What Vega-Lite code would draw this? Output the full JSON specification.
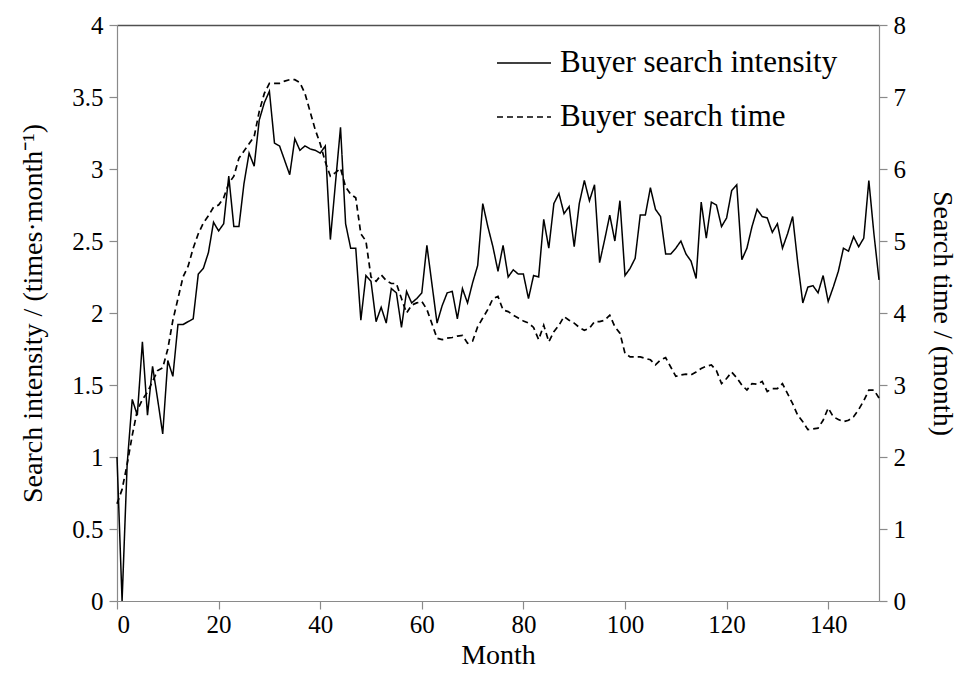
{
  "$schema": "https://vega.github.io/schema/vega-lite/v6.json",
  "width": 762,
  "height": 576,
  "autosize": {"type": "none"},
  "padding": {"left": 117, "top": 25, "right": 82, "bottom": 77},
  "background": "white",
  "config": {
    "view": {"stroke": null},
    "font": "Liberation Serif",
    "axis": {
      "grid": false,
      "domainColor": "#8a8a8a",
      "domainWidth": 1.2,
      "tickColor": "#8a8a8a",
      "tickWidth": 1.2,
      "tickSize": 8,
      "labelFont": "Liberation Serif",
      "labelFontSize": 25,
      "labelColor": "black",
      "titleFont": "Liberation Serif",
      "titleFontSize": 28,
      "titleFontWeight": "normal",
      "titleColor": "black"
    }
  },
  "data": {
    "values": [
      {"month": 0, "intensity": 1.00, "time": 1.35},
      {"month": 1, "intensity": 0.00, "time": 1.55},
      {"month": 2, "intensity": 0.95, "time": 1.9},
      {"month": 3, "intensity": 1.40, "time": 2.3},
      {"month": 4, "intensity": 1.29, "time": 2.65},
      {"month": 5, "intensity": 1.80, "time": 2.8},
      {"month": 6, "intensity": 1.29, "time": 2.9},
      {"month": 7, "intensity": 1.63, "time": 3.05},
      {"month": 8, "intensity": 1.40, "time": 3.2},
      {"month": 9, "intensity": 1.16, "time": 3.24},
      {"month": 10, "intensity": 1.67, "time": 3.5},
      {"month": 11, "intensity": 1.56, "time": 3.9},
      {"month": 12, "intensity": 1.92, "time": 4.2},
      {"month": 13, "intensity": 1.92, "time": 4.5},
      {"month": 14, "intensity": 1.94, "time": 4.65},
      {"month": 15, "intensity": 1.96, "time": 4.9},
      {"month": 16, "intensity": 2.27, "time": 5.1},
      {"month": 17, "intensity": 2.31, "time": 5.25},
      {"month": 18, "intensity": 2.42, "time": 5.35},
      {"month": 19, "intensity": 2.63, "time": 5.47},
      {"month": 20, "intensity": 2.57, "time": 5.5},
      {"month": 21, "intensity": 2.62, "time": 5.6},
      {"month": 22, "intensity": 2.95, "time": 5.8},
      {"month": 23, "intensity": 2.60, "time": 5.9},
      {"month": 24, "intensity": 2.60, "time": 6.15},
      {"month": 25, "intensity": 2.90, "time": 6.25},
      {"month": 26, "intensity": 3.11, "time": 6.35},
      {"month": 27, "intensity": 3.02, "time": 6.45},
      {"month": 28, "intensity": 3.34, "time": 6.8},
      {"month": 29, "intensity": 3.46, "time": 7.05},
      {"month": 30, "intensity": 3.54, "time": 7.19},
      {"month": 31, "intensity": 3.18, "time": 7.19},
      {"month": 32, "intensity": 3.16, "time": 7.19},
      {"month": 33, "intensity": 3.06, "time": 7.22},
      {"month": 34, "intensity": 2.96, "time": 7.24},
      {"month": 35, "intensity": 3.21, "time": 7.24},
      {"month": 36, "intensity": 3.13, "time": 7.2},
      {"month": 37, "intensity": 3.16, "time": 7.05},
      {"month": 38, "intensity": 3.14, "time": 6.8},
      {"month": 39, "intensity": 3.13, "time": 6.55},
      {"month": 40, "intensity": 3.11, "time": 6.35},
      {"month": 41, "intensity": 3.16, "time": 6.1},
      {"month": 42, "intensity": 2.51, "time": 5.9},
      {"month": 43, "intensity": 2.90, "time": 5.95},
      {"month": 44, "intensity": 3.29, "time": 6.01},
      {"month": 45, "intensity": 2.62, "time": 5.75},
      {"month": 46, "intensity": 2.45, "time": 5.65},
      {"month": 47, "intensity": 2.45, "time": 5.6},
      {"month": 48, "intensity": 1.95, "time": 5.1},
      {"month": 49, "intensity": 2.26, "time": 5.0},
      {"month": 50, "intensity": 2.22, "time": 4.5},
      {"month": 51, "intensity": 1.94, "time": 4.44},
      {"month": 52, "intensity": 2.04, "time": 4.53},
      {"month": 53, "intensity": 1.93, "time": 4.45},
      {"month": 54, "intensity": 2.17, "time": 4.41},
      {"month": 55, "intensity": 2.14, "time": 4.41},
      {"month": 56, "intensity": 1.90, "time": 4.2},
      {"month": 57, "intensity": 2.15, "time": 4.0},
      {"month": 58, "intensity": 2.07, "time": 4.11},
      {"month": 59, "intensity": 2.10, "time": 4.14},
      {"month": 60, "intensity": 2.14, "time": 4.16},
      {"month": 61, "intensity": 2.47, "time": 4.05},
      {"month": 62, "intensity": 2.20, "time": 3.85},
      {"month": 63, "intensity": 1.93, "time": 3.65},
      {"month": 64, "intensity": 2.05, "time": 3.63},
      {"month": 65, "intensity": 2.14, "time": 3.65},
      {"month": 66, "intensity": 2.15, "time": 3.66},
      {"month": 67, "intensity": 1.96, "time": 3.68},
      {"month": 68, "intensity": 2.17, "time": 3.69},
      {"month": 69, "intensity": 2.07, "time": 3.58},
      {"month": 70, "intensity": 2.21, "time": 3.61},
      {"month": 71, "intensity": 2.33, "time": 3.81},
      {"month": 72, "intensity": 2.76, "time": 3.93},
      {"month": 73, "intensity": 2.60, "time": 4.05},
      {"month": 74, "intensity": 2.46, "time": 4.2},
      {"month": 75, "intensity": 2.29, "time": 4.23},
      {"month": 76, "intensity": 2.47, "time": 4.04},
      {"month": 77, "intensity": 2.25, "time": 4.02},
      {"month": 78, "intensity": 2.30, "time": 3.97},
      {"month": 79, "intensity": 2.27, "time": 3.93},
      {"month": 80, "intensity": 2.27, "time": 3.89},
      {"month": 81, "intensity": 2.10, "time": 3.86},
      {"month": 82, "intensity": 2.26, "time": 3.8},
      {"month": 83, "intensity": 2.25, "time": 3.63},
      {"month": 84, "intensity": 2.65, "time": 3.83},
      {"month": 85, "intensity": 2.45, "time": 3.6},
      {"month": 86, "intensity": 2.76, "time": 3.74},
      {"month": 87, "intensity": 2.83, "time": 3.83},
      {"month": 88, "intensity": 2.69, "time": 3.95},
      {"month": 89, "intensity": 2.74, "time": 3.9},
      {"month": 90, "intensity": 2.46, "time": 3.86},
      {"month": 91, "intensity": 2.76, "time": 3.8},
      {"month": 92, "intensity": 2.92, "time": 3.76},
      {"month": 93, "intensity": 2.78, "time": 3.79},
      {"month": 94, "intensity": 2.89, "time": 3.88},
      {"month": 95, "intensity": 2.35, "time": 3.88},
      {"month": 96, "intensity": 2.51, "time": 3.9},
      {"month": 97, "intensity": 2.68, "time": 3.97},
      {"month": 98, "intensity": 2.50, "time": 3.81},
      {"month": 99, "intensity": 2.78, "time": 3.72},
      {"month": 100, "intensity": 2.26, "time": 3.44},
      {"month": 101, "intensity": 2.31, "time": 3.39},
      {"month": 102, "intensity": 2.38, "time": 3.39},
      {"month": 103, "intensity": 2.68, "time": 3.39},
      {"month": 104, "intensity": 2.68, "time": 3.37},
      {"month": 105, "intensity": 2.87, "time": 3.35},
      {"month": 106, "intensity": 2.72, "time": 3.28},
      {"month": 107, "intensity": 2.67, "time": 3.35},
      {"month": 108, "intensity": 2.41, "time": 3.38},
      {"month": 109, "intensity": 2.41, "time": 3.25},
      {"month": 110, "intensity": 2.45, "time": 3.12},
      {"month": 111, "intensity": 2.50, "time": 3.14},
      {"month": 112, "intensity": 2.41, "time": 3.15},
      {"month": 113, "intensity": 2.36, "time": 3.14},
      {"month": 114, "intensity": 2.24, "time": 3.18},
      {"month": 115, "intensity": 2.77, "time": 3.23},
      {"month": 116, "intensity": 2.52, "time": 3.26},
      {"month": 117, "intensity": 2.77, "time": 3.28},
      {"month": 118, "intensity": 2.75, "time": 3.2},
      {"month": 119, "intensity": 2.60, "time": 3.02},
      {"month": 120, "intensity": 2.66, "time": 3.09},
      {"month": 121, "intensity": 2.85, "time": 3.18},
      {"month": 122, "intensity": 2.89, "time": 3.1},
      {"month": 123, "intensity": 2.37, "time": 3.0},
      {"month": 124, "intensity": 2.45, "time": 2.93},
      {"month": 125, "intensity": 2.60, "time": 3.02},
      {"month": 126, "intensity": 2.72, "time": 3.01},
      {"month": 127, "intensity": 2.67, "time": 3.05},
      {"month": 128, "intensity": 2.66, "time": 2.91},
      {"month": 129, "intensity": 2.56, "time": 2.95},
      {"month": 130, "intensity": 2.62, "time": 2.95},
      {"month": 131, "intensity": 2.45, "time": 3.02},
      {"month": 132, "intensity": 2.55, "time": 2.88},
      {"month": 133, "intensity": 2.67, "time": 2.74},
      {"month": 134, "intensity": 2.35, "time": 2.58},
      {"month": 135, "intensity": 2.07, "time": 2.49},
      {"month": 136, "intensity": 2.18, "time": 2.38},
      {"month": 137, "intensity": 2.19, "time": 2.39},
      {"month": 138, "intensity": 2.14, "time": 2.4},
      {"month": 139, "intensity": 2.26, "time": 2.51},
      {"month": 140, "intensity": 2.08, "time": 2.68},
      {"month": 141, "intensity": 2.18, "time": 2.56},
      {"month": 142, "intensity": 2.29, "time": 2.52},
      {"month": 143, "intensity": 2.45, "time": 2.49},
      {"month": 144, "intensity": 2.43, "time": 2.51},
      {"month": 145, "intensity": 2.53, "time": 2.56},
      {"month": 146, "intensity": 2.46, "time": 2.66},
      {"month": 147, "intensity": 2.52, "time": 2.78},
      {"month": 148, "intensity": 2.92, "time": 2.93},
      {"month": 149, "intensity": 2.55, "time": 2.93},
      {"month": 150, "intensity": 2.23, "time": 2.82}
    ]
  },
  "layer": [
    {
      "mark": {"type": "line", "color": "black", "strokeWidth": 1.5},
      "encoding": {
        "x": {
          "field": "month", "type": "quantitative",
          "scale": {"domain": [0, 150], "nice": false},
          "axis": {"orient": "bottom", "values": [0, 20, 40, 60, 80, 100, 120, 140], "title": "Month", "titlePadding": 4, "labelPadding": 3}
        },
        "y": {
          "field": "intensity", "type": "quantitative",
          "scale": {"domain": [0, 4], "nice": false},
          "axis": {"orient": "left", "values": [0, 0.5, 1, 1.5, 2, 2.5, 3, 3.5, 4], "format": "~g", "title": "Search intensity  / (times·month⁻¹)", "titlePadding": 24, "labelPadding": 6}
        },
        "strokeDash": {
          "datum": "Buyer search intensity", "type": "nominal",
          "scale": {"domain": ["Buyer search intensity", "Buyer search time"], "range": [[1, 0], [6, 4]]},
          "legend": {
            "title": null, "orient": "none", "legendX": 379, "legendY": 10,
            "symbolType": "stroke", "symbolSize": 2916, "symbolStrokeWidth": 1.5, "symbolStrokeColor": "black",
            "labelFont": "Liberation Serif", "labelFontSize": 31, "labelColor": "black", "labelOffset": 8, "labelLimit": 0, "rowPadding": 11
          }
        }
      }
    },
    {
      "mark": {"type": "line", "color": "black", "strokeWidth": 1.7},
      "encoding": {
        "x": {
          "field": "month", "type": "quantitative",
          "scale": {"domain": [0, 150], "nice": false},
          "axis": {"orient": "top", "labels": false, "ticks": false, "title": null, "domainColor": "#505050", "domainWidth": 1.6}
        },
        "y": {
          "field": "time", "type": "quantitative",
          "scale": {"domain": [0, 8], "nice": false},
          "axis": {"orient": "right", "values": [0, 1, 2, 3, 4, 5, 6, 7, 8], "title": "Search time / (month)", "titlePadding": 22, "labelPadding": 6}
        },
        "strokeDash": {"datum": "Buyer search time", "type": "nominal"}
      }
    }
  ],
  "resolve": {"scale": {"y": "independent"}, "axis": {"x": "independent"}}
}
